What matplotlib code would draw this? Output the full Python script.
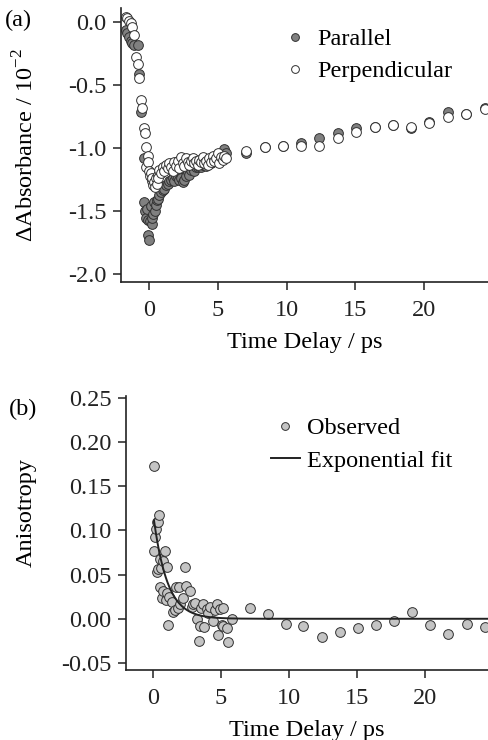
import numpy as np
import matplotlib
matplotlib.use('Agg')
import matplotlib.pyplot as plt

plt.rcParams['font.family'] = ['Liberation Serif', 'DejaVu Serif']
plt.rcParams['mathtext.fontset'] = 'custom'
plt.rcParams['mathtext.rm'] = 'Liberation Serif'
plt.rcParams['axes.unicode_minus'] = False

# (a) transient absorption, parallel / perpendicular polarisation
par_t = [-1.70, -1.58, -1.46, -1.34, -1.22, -1.09, -0.85, -0.73, -0.61, -0.36,
         -0.36, -0.29, -0.24, -0.17, -0.12, -0.10, 0.00, 0.05, 0.12, 0.17,
         0.24, 0.30, 0.36, 0.42, 0.49, 0.55, 0.61, 0.73, 0.85, 0.97,
         1.10, 1.22, 1.34, 1.46, 1.58, 1.70, 1.83, 1.95, 2.07, 2.19,
         2.31, 2.43, 2.56, 2.68, 2.80, 2.92, 3.04, 3.16, 3.28, 3.41,
         3.53, 3.65, 3.77, 3.90, 4.02, 4.14, 4.26, 4.38, 4.50, 4.63,
         4.75, 4.87, 5.00, 5.11, 5.23, 5.35, 5.48, 5.60, 7.06, 8.40,
         9.73, 11.07, 12.40, 13.74, 15.07, 16.41, 17.74, 19.08, 20.41, 21.75,
         23.08, 24.42]
par_a = [-0.06, -0.09, -0.12, -0.15, -0.17, -0.18, -0.18, -0.41, -0.71, -1.08,
         -1.43, -1.50, -1.55, -1.48, -1.57, -1.69, -1.73, -1.58, -1.46, -1.60,
         -1.55, -1.52, -1.43, -1.50, -1.45, -1.41, -1.40, -1.37, -1.35, -1.33,
         -1.32, -1.29, -1.28, -1.26, -1.25, -1.24, -1.26, -1.22, -1.23, -1.25,
         -1.24, -1.27, -1.25, -1.22, -1.19, -1.21, -1.17, -1.16, -1.18, -1.15,
         -1.15, -1.14, -1.15, -1.13, -1.12, -1.14, -1.12, -1.11, -1.12, -1.10,
         -1.09, -1.10, -1.06, -1.08, -1.05, -1.04, -1.01, -1.04, -1.04, -0.99,
         -0.98, -0.96, -0.92, -0.88, -0.84, -0.83, -0.82, -0.84, -0.79, -0.71,
         -0.73, -0.68]

perp_t = [-1.70, -1.58, -1.46, -1.34, -1.22, -1.09, -0.97, -0.85, -0.73, -0.61,
          -0.53, -0.36, -0.29, -0.24, -0.05, -0.24, -0.12, 0.00, 0.06, 0.12,
          0.18, 0.24, 0.30, 0.36, 0.42, 0.49, 0.55, 0.61, 0.67, 0.73,
          0.85, 0.97, 1.10, 1.22, 1.34, 1.46, 1.58, 1.70, 1.83, 1.95,
          2.07, 2.19, 2.31, 2.43, 2.56, 2.68, 2.80, 2.92, 3.04, 3.16,
          3.28, 3.41, 3.53, 3.65, 3.77, 3.90, 4.02, 4.14, 4.26, 4.38,
          4.50, 4.63, 4.75, 4.87, 5.00, 5.11, 5.23, 5.35, 5.48, 5.60,
          7.06, 8.40, 9.73, 11.07, 12.40, 13.74, 15.07, 16.41, 17.74, 19.08,
          20.41, 21.75, 23.08, 24.42]
perp_a = [0.04, 0.03, 0.01, -0.01, -0.04, -0.10, -0.28, -0.33, -0.44, -0.62,
          -0.68, -0.84, -0.88, -0.99, -1.06, -1.15, -1.11, -1.18, -1.22, -1.20,
          -1.26, -1.24, -1.29, -1.27, -1.31, -1.24, -1.28, -1.21, -1.24, -1.17,
          -1.20, -1.15, -1.18, -1.13, -1.16, -1.12, -1.15, -1.18, -1.11, -1.14,
          -1.10, -1.16, -1.07, -1.12, -1.14, -1.08, -1.11, -1.13, -1.10, -1.08,
          -1.12, -1.10, -1.13, -1.09, -1.11, -1.07, -1.12, -1.10, -1.13, -1.08,
          -1.11, -1.06, -1.10, -1.08, -1.04, -1.12, -1.07, -1.09, -1.06, -1.08,
          -1.02, -0.99, -0.98, -0.98, -0.98, -0.92, -0.87, -0.83, -0.82, -0.83,
          -0.80, -0.75, -0.73, -0.69]

# (b) anisotropy
obs_t = [0.07, 0.07, 0.15, 0.22, 0.27, 0.32, 0.39, 0.47, 0.35, 0.51,
         0.51, 0.58, 0.64, 0.76, 0.76, 0.88, 0.93, 1.00, 1.00, 1.13,
         1.20, 1.37, 1.45, 1.60, 1.70, 1.80, 1.90, 2.00, 2.20, 2.35,
         2.40, 2.70, 2.84, 2.95, 3.09, 3.21, 3.34, 3.45, 3.55, 3.70,
         3.75, 3.95, 4.07, 4.19, 4.43, 4.55, 4.68, 4.80, 4.95, 5.05,
         5.12, 5.17, 5.40, 5.54, 5.79, 7.13, 8.48, 9.78, 11.05, 12.40,
         13.75, 15.05, 16.40, 17.70, 19.07, 20.40, 21.70, 23.07, 24.40]
obs_r = [0.173, 0.077, 0.093, 0.102, 0.053, 0.110, 0.110, 0.117, 0.056, 0.068,
         0.036, 0.057, 0.023, 0.065, 0.032, 0.077, 0.021, 0.059, 0.029, -0.007,
         0.025, 0.019, 0.008, 0.010, 0.036, 0.012, 0.036, 0.017, 0.023, 0.059,
         0.037, 0.032, 0.013, 0.017, 0.018, 0.000, -0.025, -0.008, 0.012, 0.017,
         -0.009, 0.011, 0.006, 0.013, -0.003, 0.010, 0.017, -0.018, 0.011, -0.007,
         0.012, -0.008, -0.011, -0.026, 0.000, 0.012, 0.005, -0.006, -0.008, -0.021,
         -0.015, -0.010, -0.007, -0.002, 0.0075, -0.0075, -0.017, -0.006, -0.009]

# exponential fit parameters
fit_t0 = 0.07
fit_amp = 0.111
fit_tau = 1.0

fs = 17.5

fig = plt.figure(figsize=(4.88, 7.4), dpi=100)
ax1 = fig.add_axes([0.248, 0.619, 0.752, 0.370])
ax2 = fig.add_axes([0.258, 0.0946, 0.742, 0.370])

for ax in (ax1, ax2):
    for s in ('top', 'right'):
        ax.spines[s].set_visible(False)
    for s in ('left', 'bottom'):
        ax.spines[s].set_linewidth(1.2)
        ax.spines[s].set_color('#222222')
    ax.tick_params(direction='out', length=5.8, width=1.1, labelsize=fs,
                   colors='#222222')
    ax.tick_params(axis='x', pad=7)
    ax.tick_params(axis='y', pad=4.5)
    ax.set_xticks([0, 5, 10, 15, 20])

ax1.plot(par_t, par_a, 'o', ms=7, mfc='#808080', mec='#303030', mew=0.7,
         label='Parallel')
ax1.plot(perp_t, perp_a, 'o', ms=7, mfc='white', mec='#303030', mew=0.7,
         label='Perpendicular')
ax1.set_xlim(-2.05, 24.67)
ax1.set_ylim(-2.06, 0.11)
ax1.set_yticks([0.0, -0.5, -1.0, -1.5, -2.0])
ax1.set_yticklabels(['%.1f' % v for v in [0.0, -0.5, -1.0, -1.5, -2.0]])
ax1.set_xlabel('Time Delay / ps', fontsize=fs, labelpad=8)
ax1.set_ylabel(r'$\Delta$Absorbance / 10$^{\mathrm{-2}}$', fontsize=fs)
ax1.yaxis.set_label_coords(-0.225, 0.5)
ax1.legend(loc='upper left', bbox_to_anchor=(0.575, 0.962),
           bbox_transform=fig.transFigure, frameon=False, fontsize=fs,
           handlelength=1.2, handletextpad=0.3, labelspacing=0.42,
           borderpad=0, borderaxespad=0, markerscale=0.8)

tt = np.linspace(fit_t0, 24.7, 400)
ax2.plot(obs_t, obs_r, 'o', ms=7, mfc='#c4c4c4', mec='#303030', mew=0.7,
         label='Observed')
ax2.plot(tt, fit_amp * np.exp(-(tt - fit_t0) / fit_tau), '-', color='#222222',
         lw=1.4, label='Exponential fit')
ax2.set_xlim(-2.0, 24.63)
ax2.set_ylim(-0.058, 0.252)
ax2.set_yticks([0.25, 0.20, 0.15, 0.10, 0.05, 0.00, -0.05])
ax2.set_yticklabels(['%.2f' % v for v in [0.25, 0.20, 0.15, 0.10, 0.05, 0.00, -0.05]])
ax2.set_xlabel('Time Delay / ps', fontsize=fs, labelpad=8)
ax2.set_ylabel('Anisotropy', fontsize=fs)
ax2.yaxis.set_label_coords(-0.245, 0.577)
ax2.legend(loc='upper left', bbox_to_anchor=(0.555, 0.436),
           bbox_transform=fig.transFigure, frameon=False, fontsize=fs,
           handlelength=1.2, handletextpad=0.3, labelspacing=0.42,
           borderpad=0, borderaxespad=0, markerscale=0.8)

fig.text(0.01, 0.972, '(a)', fontsize=fs, va='center', ha='left')
fig.text(0.018, 0.447, '(b)', fontsize=fs, va='center', ha='left')

fig.savefig('out.png', dpi=100)
